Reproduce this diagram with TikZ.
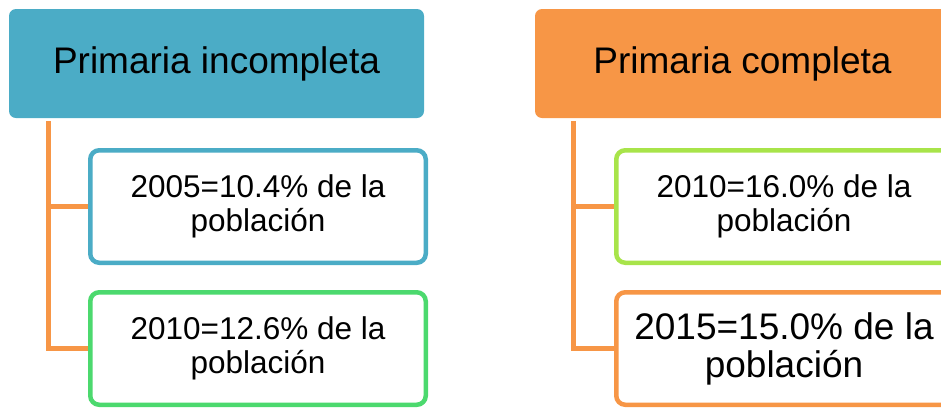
\documentclass[tikz,border=0pt]{standalone}
\usepackage{fontspec}
\setmainfont{Liberation Sans}
\definecolor{teal}{HTML}{4BACC6}
\definecolor{orng}{HTML}{F79646}
\definecolor{grn}{HTML}{4CD96E}
\definecolor{lime}{HTML}{A8E44A}
\begin{document}
\begin{tikzpicture}[x=1pt,y=-1pt,
  header/.style={fill=#1, draw=none, rounded corners=7pt, minimum width=415pt, minimum height=109pt, inner sep=0pt,
     font=\fontsize{37}{40}\selectfont},
  leaf/.style={draw=#1, line width=4.5pt, fill=white, rounded corners=9pt, minimum width=335.5pt, minimum height=112.5pt,
     inner sep=0pt, align=center, font=\fontsize{31.5}{34}\selectfont},
  conn/.style={draw=orng, line width=5.5pt}]
\useasboundingbox (0,0) rectangle (941,408);
\clip (0,0) rectangle (941,408);
% left group
\node[header=teal] (hL) at (216.5,63.5) {Primaria incompleta};
\node[leaf=teal] (b1) at (258,206.5) {2005=10.4\% de la\\población};
\node[leaf=grn] (b2) at (258,348.5) {2010=12.6\% de la\\población};
\coordinate (tL) at (48.5,121);
\draw[conn] (tL) |- (b1.west);
\draw[conn] (tL) |- (b2.west);
% right group
\node[header=orng] (hR) at (742.5,63.5) {Primaria completa};
\node[leaf=lime] (b3) at (784,206.5) {2010=16.0\% de la\\población};
\node[leaf=orng, font=\fontsize{37}{38}\selectfont] (b4) at (784,348.5) {2015=15.0\% de la\\población};
\coordinate (tR) at (573.5,121);
\draw[conn] (tR) |- (b3.west);
\draw[conn] (tR) |- (b4.west);
\end{tikzpicture}
\end{document}
